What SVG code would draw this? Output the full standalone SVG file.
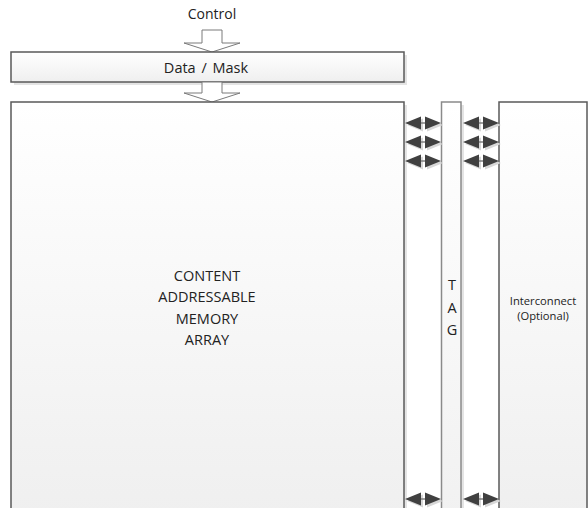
<svg xmlns="http://www.w3.org/2000/svg" width="588" height="508" viewBox="0 0 588 508">
<defs>
<linearGradient id="g" x1="0" y1="0" x2="0" y2="1">
<stop offset="0" stop-color="#ffffff"/>
<stop offset="1" stop-color="#efefef"/>
</linearGradient>
<linearGradient id="gb" x1="0" y1="0" x2="0" y2="1">
<stop offset="0" stop-color="#ffffff"/>
<stop offset="1" stop-color="#f1f1f1"/>
</linearGradient>
<g id="dbl">
<path d="M1,0 L17,-6.5 L17,6.5 Z M37,0 L21,-6.5 L21,6.5 Z" fill="#d8d8d8" transform="translate(2,2)"/>
<line x1="10" y1="0" x2="28" y2="0" stroke="#808080" stroke-width="1.5"/>
<path d="M1,0 L17,-6.5 L17,6.5 Z M37,0 L21,-6.5 L21,6.5 Z" fill="#404040"/>
</g>
</defs>
<style>
.box{stroke:#5a5a5a;stroke-width:1.5}
.sh{fill:#e4e4e4}
.t{font-family:"Open Sans","Noto Sans","Liberation Sans",sans-serif;fill:#222;text-anchor:middle}
.arr{fill:#ffffff;stroke:#7a7a7a;stroke-width:1}
</style>
<rect width="588" height="508" fill="#ffffff"/>
<text class="t" x="212" y="19" font-size="14">Control</text>
<g id="arrow-control">
<path class="arr" d="M202,30 L222,30 L222,43 L240,43 L212,52 L184,43 L202,43 Z"/>
</g>
<g id="datamask">
<rect class="sh" x="14" y="55" width="393" height="30"/>
<rect class="box" x="11" y="52" width="393" height="30" fill="url(#g)"/>
<text class="t" x="206" y="73" font-size="14.5" word-spacing="2">Data / Mask</text>
</g>
<g id="arrow-mask">
<path class="arr" d="M202,82 L222,82 L222,93 L240,93 L212,102 L184,93 L202,93 Z"/>
</g>
<g id="cam">
<rect class="sh" x="14" y="105" width="393" height="410"/>
<rect class="box" x="11" y="102" width="393" height="420" fill="url(#g)"/>
<text class="t" font-size="14.5"><tspan x="207" y="281">CONTENT</tspan><tspan x="207" y="302.3">ADDRESSABLE</tspan><tspan x="207" y="323.6">MEMORY</tspan><tspan x="207" y="345">ARRAY</tspan></text>
</g>
<g id="tag">
<rect class="sh" x="444" y="105" width="20" height="410"/>
<rect x="441.5" y="102" width="19.5" height="420" fill="url(#gb)" stroke="#8a8a8a" stroke-width="1.5"/>
<text class="t" font-size="14.5"><tspan x="452" y="290">T</tspan><tspan x="452" y="312.5">A</tspan><tspan x="452" y="335">G</tspan></text>
</g>
<g id="interconnect">
<rect class="box" x="499" y="102" width="88" height="420" fill="url(#g)"/>
<text class="t" font-size="11.2"><tspan x="543" y="305">Interconnect</tspan><tspan x="543" y="320">(Optional)</tspan></text>
</g>
<g id="connectors">
<use href="#dbl" x="404" y="123"/>
<use href="#dbl" x="404" y="142"/>
<use href="#dbl" x="404" y="161"/>
<use href="#dbl" x="404" y="499"/>
<use href="#dbl" x="462" y="123"/>
<use href="#dbl" x="462" y="142"/>
<use href="#dbl" x="462" y="161"/>
<use href="#dbl" x="462" y="499"/>
</g>
</svg>
